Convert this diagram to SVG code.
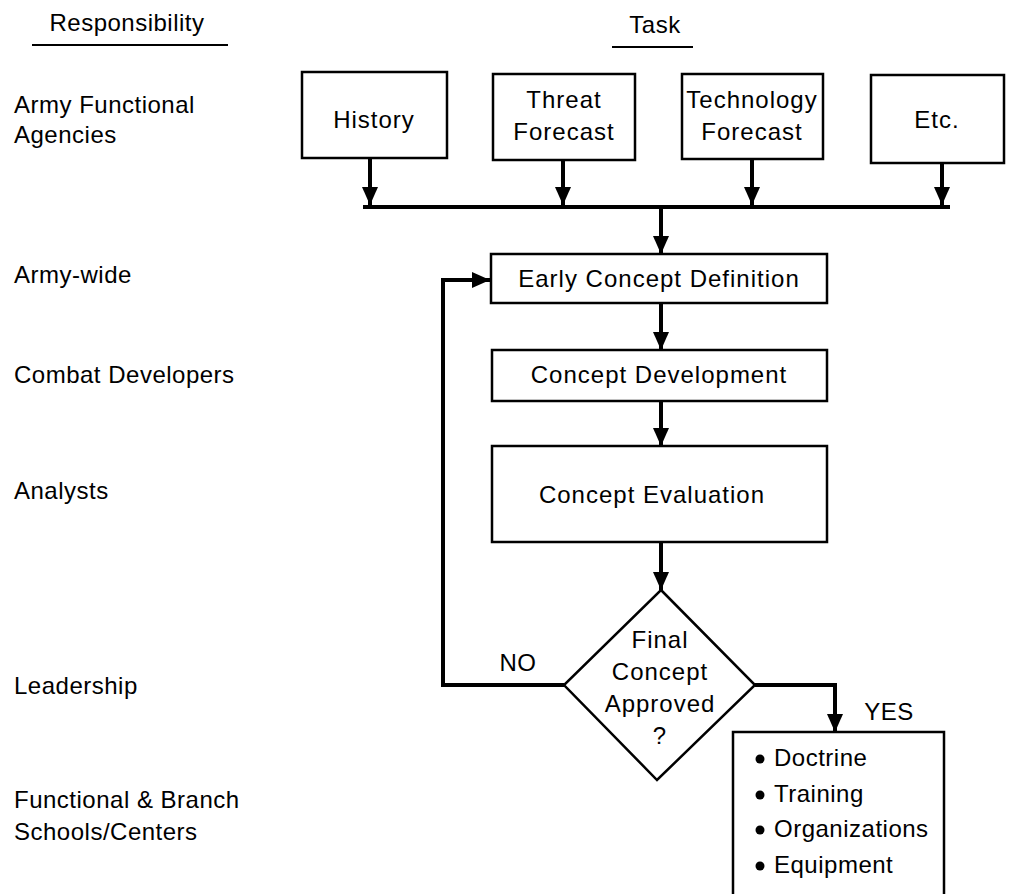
<svg xmlns="http://www.w3.org/2000/svg" width="1009" height="894" viewBox="0 0 1009 894">
<style>
text{font-family:"Liberation Sans",Arial,Helvetica,sans-serif;font-size:24px;fill:#000;}
.lbl{letter-spacing:0.5px;}
.c{text-anchor:middle;letter-spacing:1px;}
.box{fill:#fff;stroke:#000;stroke-width:2.5;}
.con{fill:none;stroke:#000;stroke-width:4;}
.ul{stroke:#000;stroke-width:2;}
</style>
<defs>
<marker id="ah" markerUnits="userSpaceOnUse" markerWidth="18" markerHeight="16" refX="18" refY="8" orient="auto" viewBox="0 0 18 16">
<path d="M0,0 L18,8 L0,16 z" fill="#000"/>
</marker>
</defs>
<rect width="1009" height="894" fill="#fff"/>

<g id="headers">
<text x="127" y="31" class="lbl" text-anchor="middle">Responsibility</text>
<line x1="32" y1="45" x2="228" y2="45" class="ul"/>
<text x="655" y="33" class="lbl" text-anchor="middle">Task</text>
<line x1="612" y1="47" x2="693" y2="47" class="ul"/>
</g>

<g id="responsibility-labels">
<text x="14" y="113" class="lbl">Army Functional</text>
<text x="14" y="143" class="lbl">Agencies</text>
<text x="14" y="283" class="lbl">Army-wide</text>
<text x="14" y="383" class="lbl">Combat Developers</text>
<text x="14" y="499" class="lbl">Analysts</text>
<text x="14" y="694" class="lbl">Leadership</text>
<text x="14" y="808" class="lbl">Functional &amp; Branch</text>
<text x="14" y="840" class="lbl">Schools/Centers</text>
</g>

<g id="connectors">
<line x1="370" y1="158" x2="370" y2="205" class="con" marker-end="url(#ah)"/>
<line x1="563" y1="160" x2="563" y2="205" class="con" marker-end="url(#ah)"/>
<line x1="752" y1="159" x2="752" y2="205" class="con" marker-end="url(#ah)"/>
<line x1="942" y1="163" x2="942" y2="205" class="con" marker-end="url(#ah)"/>
<line x1="363" y1="207" x2="950" y2="207" class="con" stroke-width="5"/>
<line x1="661" y1="207" x2="661" y2="254" class="con" marker-end="url(#ah)"/>
<line x1="661" y1="303" x2="661" y2="350" class="con" marker-end="url(#ah)"/>
<line x1="661" y1="401" x2="661" y2="446" class="con" marker-end="url(#ah)"/>
<line x1="661" y1="542" x2="661" y2="590" class="con" marker-end="url(#ah)"/>
<polyline points="564,685 443,685 443,280 490,280" class="con" marker-end="url(#ah)"/>
<polyline points="755,685 835,685 835,732" class="con" marker-end="url(#ah)"/>
<text x="518" y="671" text-anchor="middle" class="lbl">NO</text>
<text x="889" y="720" text-anchor="middle" class="lbl">YES</text>
</g>

<g id="history">
<rect x="302" y="72" width="145" height="86" class="box"/>
<text x="374" y="128" class="c">History</text>
</g>
<g id="threat-forecast">
<rect x="493" y="74" width="142" height="86" class="box"/>
<text x="564" y="108" class="c">Threat</text>
<text x="564" y="140" class="c">Forecast</text>
</g>
<g id="technology-forecast">
<rect x="682" y="74" width="141" height="85" class="box"/>
<text x="752" y="108" class="c">Technology</text>
<text x="752" y="140" class="c">Forecast</text>
</g>
<g id="etc">
<rect x="871" y="75" width="133" height="88" class="box"/>
<text x="937" y="128" class="c">Etc.</text>
</g>

<g id="early-concept-definition">
<rect x="491" y="254" width="336" height="49" class="box"/>
<text x="659" y="287" class="c">Early Concept Definition</text>
</g>
<g id="concept-development">
<rect x="492" y="350" width="335" height="51" class="box"/>
<text x="659" y="383" class="c">Concept Development</text>
</g>
<g id="concept-evaluation">
<rect x="492" y="446" width="335" height="96" class="box"/>
<text x="652" y="503" class="c">Concept Evaluation</text>
</g>

<g id="final-concept-approved">
<polygon points="661,590 755,685 657,780 564,685" class="box"/>
<text x="660" y="648" class="c">Final</text>
<text x="660" y="680" class="c">Concept</text>
<text x="660" y="712" class="c">Approved</text>
<text x="660" y="744" class="c">?</text>
</g>

<g id="outcomes">
<rect x="733" y="732" width="211" height="180" class="box"/>
<circle cx="760" cy="759" r="4.5" fill="#000"/>
<text x="774" y="766" class="lbl">Doctrine</text>
<circle cx="760" cy="795" r="4.5" fill="#000"/>
<text x="774" y="802" class="lbl">Training</text>
<circle cx="760" cy="830" r="4.5" fill="#000"/>
<text x="774" y="837" class="lbl">Organizations</text>
<circle cx="760" cy="866" r="4.5" fill="#000"/>
<text x="774" y="873" class="lbl">Equipment</text>
</g>
</svg>
